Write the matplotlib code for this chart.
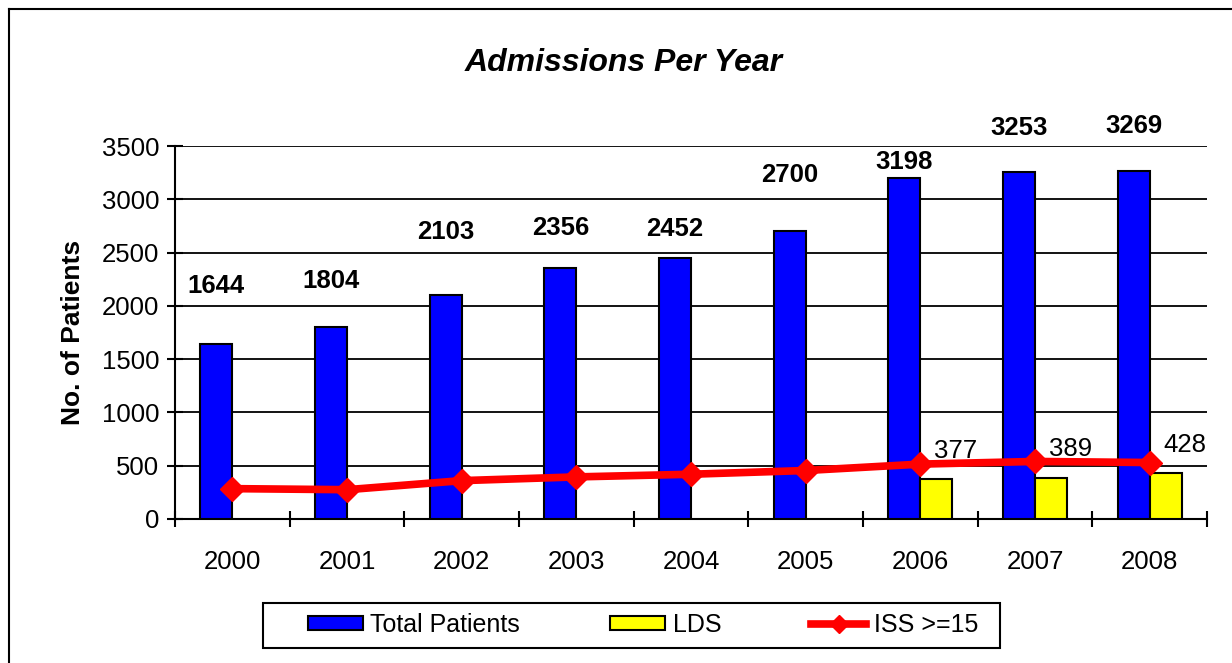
import numpy as np
import matplotlib
matplotlib.use("Agg")
import matplotlib.pyplot as plt
from matplotlib.patches import Patch, Rectangle
from matplotlib.lines import Line2D

plt.rcParams['font.family'] = ['Liberation Sans', 'DejaVu Sans']

# Datos
years = ["2000", "2001", "2002", "2003", "2004", "2005", "2006", "2007", "2008"]
total_patients = [1644, 1804, 2103, 2356, 2452, 2700, 3198, 3253, 3269]
lds = [np.nan, np.nan, np.nan, np.nan, np.nan, np.nan, 377, 389, 428]
iss15 = [285, 275, 360, 395, 420, 455, 515, 540, 530]

# Posición de las etiquetas (como en el original de Excel)
total_label_y = [2190, 2235, 2695, 2730, 2725, 3230, 3350, 3670, 3690]
lds_label_dy = 265

x = np.arange(len(years))
w = 0.28

fig = plt.figure(figsize=(12.32, 6.63), dpi=100)
ax = fig.add_axes([175 / 1232, 1 - 519 / 663, (1207 - 175) / 1232, (519 - 146) / 663])

ax.bar(x - w / 2, total_patients, w, color="#0000ff", edgecolor="black", linewidth=1.5, zorder=3)
ax.bar(x + w / 2, lds, w, color="#ffff00", edgecolor="black", linewidth=1.5, zorder=3)
ax.plot(x, iss15, color="#ff0000", linewidth=5.5, marker="D", markersize=12, zorder=4)

for xi, v, ly in zip(x, total_patients, total_label_y):
    ax.text(xi - w / 2, ly, str(v), ha="center", va="center", fontsize=18.5, fontweight="bold")
for xi, v in zip(x, lds):
    if not np.isnan(v):
        ax.text(xi + 0.31, v + lds_label_dy, str(int(v)), ha="center", va="center", fontsize=18.5)

ax.set_xlim(-0.5, len(years) - 0.5)
ax.set_ylim(0, 3500)
ax.set_yticks(np.arange(0, 3501, 500))
ax.yaxis.grid(True, color="black", linewidth=1.3, zorder=0)
ax.set_axisbelow(True)

ax.set_xticks(x)
ax.set_xticklabels(years)
ax.set_xticks(np.arange(-0.5, len(years)), minor=True)
ax.tick_params(axis="x", which="major", length=0, pad=22, labelsize=18.5)
ax.tick_params(axis="x", which="minor", direction="inout", length=11, width=1.5)
ax.tick_params(axis="y", direction="inout", length=11, width=1.5, pad=6, labelsize=18.5)

for s in ["top", "right"]:
    ax.spines[s].set_visible(False)
ax.spines["left"].set_linewidth(1.5)
ax.spines["bottom"].set_linewidth(1.5)

ax.set_ylabel("No. of Patients", fontsize=19, fontweight="bold", labelpad=12)
fig.text(624 / 1232, 1 - 63 / 663, "Admissions Per Year", ha="center", va="center",
         fontsize=23, fontweight="bold", fontstyle="italic")

# Leyenda con caja dibujada aparte
handles = [
    Patch(facecolor="#0000ff", edgecolor="black", linewidth=1.5),
    Patch(facecolor="#ffff00", edgecolor="black", linewidth=1.5),
    Line2D([], [], color="#ff0000", linewidth=5.5, marker="D", markersize=9),
]
fig.legend(handles, ["Total Patients", "LDS", "ISS >=15"], ncol=3, loc="center",
           bbox_to_anchor=(643 / 1232, 1 - 625 / 663), fontsize=18, frameon=False,
           handlelength=2.2, handleheight=0.5, handletextpad=0.3, columnspacing=3.6,
           borderpad=0.2)
fig.add_artist(Rectangle((263 / 1232, 1 - 648 / 663), (1000 - 263) / 1232, 45 / 663,
                         transform=fig.transFigure, fill=False, edgecolor="black", linewidth=1.5))

# Marco exterior
fig.add_artist(Line2D([9 / 1232, 9 / 1232], [0, 1 - 9 / 663], color="black", linewidth=1.5,
                      transform=fig.transFigure))
fig.add_artist(Line2D([9 / 1232, 1], [1 - 9 / 663, 1 - 9 / 663], color="black", linewidth=1.5,
                      transform=fig.transFigure))

fig.savefig("out.png", dpi=100)
